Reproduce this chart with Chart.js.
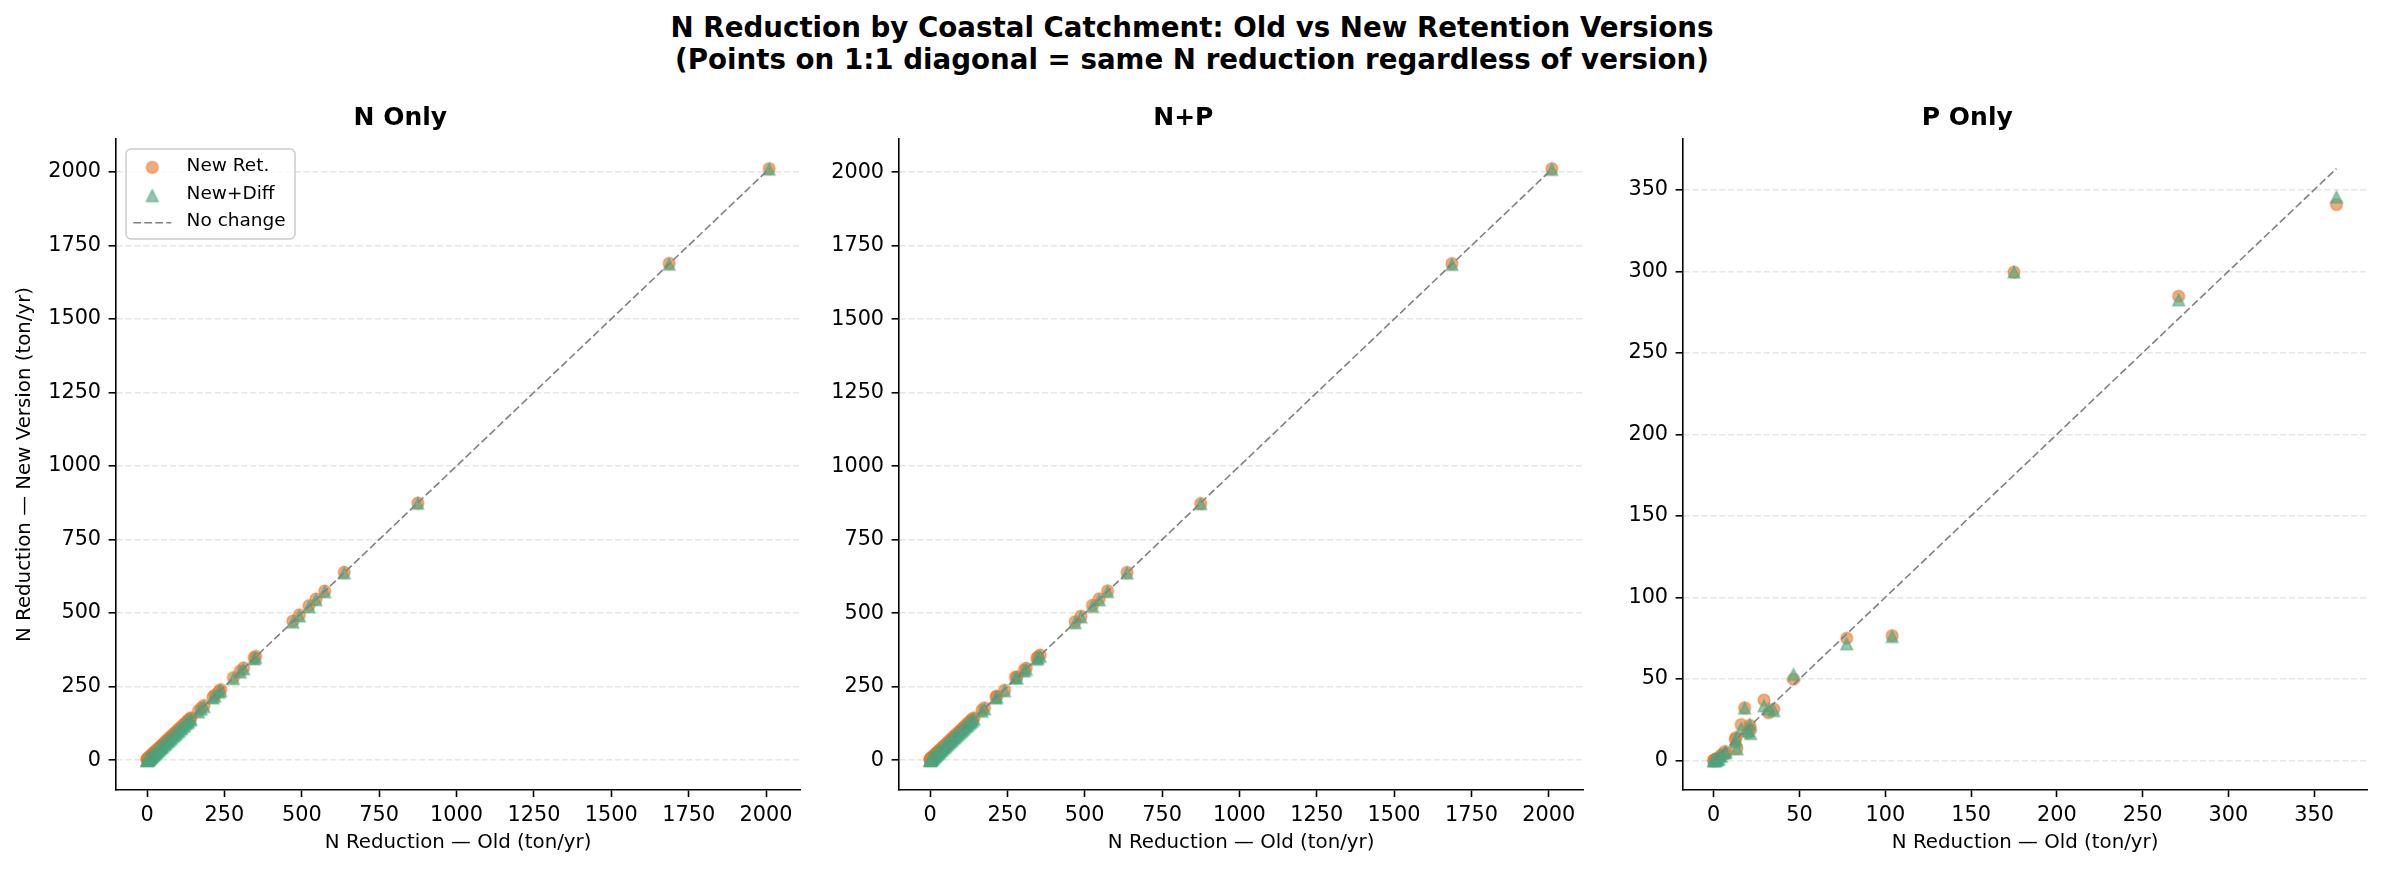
<!DOCTYPE html>
<html><head><meta charset="utf-8">
<script src="https://cdn.jsdelivr.net/npm/chart.js@4.4.1/dist/chart.umd.min.js"></script>
<style>
html,body{margin:0;padding:0;background:#fff;}
body{width:2384px;height:870px;position:relative;overflow:hidden;font-family:'DejaVu Sans',sans-serif;}
#suptitle{position:absolute;left:0;top:12px;width:2384px;text-align:center;font-weight:bold;font-size:27.7px;line-height:32px;color:#000;}
canvas{position:absolute;top:0;}
</style></head><body>
<div id="suptitle">N Reduction by Coastal Catchment: Old vs New Retention Versions<br>(Points on 1:1 diagonal = same N reduction regardless of version)</div>
<canvas id="c1" width="821" height="870" style="left:0px"></canvas>
<canvas id="c2" width="821" height="870" style="left:783px"></canvas>
<canvas id="c3" width="821" height="870" style="left:1567px"></canvas>
<script>
// ---------- data ----------
const panelTitles = ['N Only', 'N+P', 'P Only'];
const seriesLabels = ['New Ret.', 'New+Diff', 'No change'];
const xAxisLabel = 'N Reduction \u2014 Old (ton/yr)';
const yAxisLabel = 'N Reduction \u2014 New Version (ton/yr)';
const bigTicks = [0, 250, 500, 750, 1000, 1250, 1500, 1750, 2000];
const smallTicks = [0, 50, 100, 150, 200, 250, 300, 350];

const nOnlyOld = [2010,1687,875,637,574,546,523,492,471,351,346,312,301,279,238,233,219,213,184,175,166,142,139,133,131,126,120,118,112,109,104,101,97,93,90,86,83,78,76,72,69,66,63,59,57,54,50,48,45,43,40,37,35,33,30,28,26,24,22,20,18,17,15,13,12,10,9,7.5,6.2,5,4,3.1,2.4,1.6,1.1,0.6,0.2];
const nOnlyNewRet = [2011,1689,874,639,575,548,525,494,473,353,348,314,303,281,240,235,221,215,186,177,168,144,141,135,133,128,122,120,114,111,106,103,99,95,92,88,85,80,78,74,71,68,65,61,59,56,52,50,47,45,42,39,37,35,32,30,28,26,24,22,20,19,17,15,14,12,11,9.5,8,7,6,5,4.2,3.4,2.8,2.2,1.8];
const nOnlyNewDiff = [2009,1686,873,636,572,545,521,490,469,349,344,310,299,277,236,231,217,211,182,173,164,139,136,130,128,123,117,115,109,106,101,98,94,90,87,83,80,75,73,69,66,63,60,56,54,51,47,45,42,40,37,34,32,30,27,25,23,21,19,17,15,14,12,10,9,7,6,4.5,3.4,2.3,1.5,0.8,0.3,-0.2,-0.5,-0.8,-1.0];

const npOld = [2010,1687,875,637,574,547,525,488,469,356,349,345,311,305,276,281,241,216,213,176,168,142,137,134,130,127,122,119,115,110,107,103,100,96,92,89,85,81,78,75,71,68,65,62,58,55,52,49,46,44,41,38,36,33,31,29,27,25,23,21,19,17,16,14,12,11,9,8,6.5,5.2,4.1,3.2,2.3,1.6,1,0.5,0.2];
const npNewRet = [2012,1689,873,639,576,549,527,490,471,358,351,347,313,307,283,283,238,218,215,178,170,144,139,136,132,129,124,121,117,112,109,105,102,98,94,91,87,83,80,77,73,70,67,64,60,57,54,51,48,46,43,40,38,35,33,31,29,27,25,23,21,19,18,16,14,13,11,10,8.5,7.2,6.1,5.2,4.3,3.6,3,2.5,2.2];
const npNewDiff = [2009,1686,872,636,573,545,523,487,467,353,347,343,309,303,279,280,236,214,211,174,166,140,135,132,128,125,120,117,113,108,105,101,98,94,90,87,83,79,76,73,69,66,63,60,56,53,50,47,44,42,39,36,34,31,29,27,25,23,21,19,17,15,14,12,10,9,7,6,4.5,3.2,2.1,1.2,0.5,0,-0.4,-0.7,-0.9];

const pOld = [363,271,175,104,77.5,46.5,29.3,35,32,18,16,21,21.5,20,13,12.5,13.5,6.5,7,4.5,3.5,3,2.2,1.5,1,0.6,0.3,0.1,0];
const pNewRet = [341,284.7,299.5,76.5,75,49.8,37,31.5,29.2,32.3,22,21.5,19,17,14,13,7.5,5.5,4,3.5,2,1.5,1,0.8,0.5,0.2,0,0,0];
const pNewDiff = [345.5,282.5,299.5,76,71.5,52.7,33.5,30.5,31.5,32,19.5,22,16.5,18,13,11.5,7,4.8,5,2.5,3,0.8,0.4,0.2,0,0,0,0,0];

// ---------- styles ----------
const ORANGE = '232,121,47', GREEN = '76,166,126', ALPHA = 0.62;
Chart.defaults.font.family = "'DejaVu Sans', sans-serif";
Chart.defaults.color = '#000';

function makeMarker(shape, rgb) {
  const S = 20, c = document.createElement('canvas');
  c.width = S; c.height = S;
  const g = c.getContext('2d'), m = S / 2, r = 5.8;
  g.beginPath();
  if (shape === 'circle') g.arc(m, m, r, 0, Math.PI * 2);
  else { g.moveTo(m, m - r); g.lineTo(m - r, m + r); g.lineTo(m + r, m + r); g.closePath(); }
  g.fillStyle = `rgba(${rgb},${ALPHA})`; g.fill();
  g.lineWidth = 1.5; g.strokeStyle = `rgba(${rgb},${ALPHA})`; g.stroke();
  return c;
}
const circleMk = makeMarker('circle', ORANGE);
const triMk = makeMarker('triangle', GREEN);

const legendPlugin = {
  id: 'mplLegend',
  afterDatasetsDraw(chart, args, opts) {
    if (!opts.show) return;
    const ctx = chart.ctx, ca = chart.chartArea;
    const x0 = ca.left + 10.4, y0 = ca.top + 10, w = 169, h = 90, rr = 5;
    ctx.save();
    ctx.beginPath();
    ctx.moveTo(x0 + rr, y0); ctx.lineTo(x0 + w - rr, y0); ctx.arcTo(x0 + w, y0, x0 + w, y0 + rr, rr);
    ctx.lineTo(x0 + w, y0 + h - rr); ctx.arcTo(x0 + w, y0 + h, x0 + w - rr, y0 + h, rr);
    ctx.lineTo(x0 + rr, y0 + h); ctx.arcTo(x0, y0 + h, x0, y0 + h - rr, rr);
    ctx.lineTo(x0, y0 + rr); ctx.arcTo(x0, y0, x0 + rr, y0, rr); ctx.closePath();
    ctx.fillStyle = 'rgba(255,255,255,0.8)'; ctx.fill();
    ctx.lineWidth = 1.5; ctx.strokeStyle = '#cccccc'; ctx.stroke();
    const mx = ca.left + 36.7, tx = ca.left + 71;
    const rows = [ca.top + 28.3, ca.top + 56.7, ca.top + 83.7];
    const ds = chart.data.datasets;
    ctx.drawImage(circleMk, mx - circleMk.width / 2, rows[0] - circleMk.height / 2);
    ctx.drawImage(triMk, mx - triMk.width / 2, rows[1] - triMk.height / 2);
    ctx.beginPath(); ctx.setLineDash([7.7, 3.3]); ctx.lineWidth = 1.6; ctx.strokeStyle = '#808080';
    ctx.moveTo(mx - 19, rows[2]); ctx.lineTo(mx + 19, rows[2]); ctx.stroke();
    ctx.setLineDash([]);
    ctx.fillStyle = '#000'; ctx.font = "18.5px 'DejaVu Sans'"; ctx.textBaseline = 'middle'; ctx.textAlign = 'left';
    for (let i = 0; i < 3; i++) ctx.fillText(ds[[2, 1, 0][i]].label, tx, rows[i] - 1.2);
    ctx.restore();
  }
};

function buildPanel(id, title, oldV, retV, diffV, ticks, showY, showLegend) {
  const all = oldV.concat(retV, diffV);
  const lo = Math.min(...all), hi = Math.max(...all);
  const m = (hi - lo) * 0.05;
  const axMin = lo - m, axMax = hi + m;
  const tickFont = { size: 20.8 };
  const commonTicks = { font: tickFont, color: '#000', autoSkip: false, maxRotation: 0, callback: v => String(v) };
  new Chart(document.getElementById(id), {
    type: 'scatter',
    data: {
      datasets: [
        { label: seriesLabels[2], data: [{ x: lo, y: lo }, { x: hi, y: hi }], showLine: true,
          borderColor: '#808080', borderWidth: 1.6, borderDash: [7.7, 3.3], pointRadius: 0, order: 0 },
        { label: seriesLabels[1], data: oldV.map((x, i) => ({ x, y: diffV[i] })),
          pointStyle: triMk, pointRadius: 6, order: 1 },
        { label: seriesLabels[0], data: oldV.map((x, i) => ({ x, y: retV[i] })),
          pointStyle: circleMk, pointRadius: 6, order: 2 }
      ]
    },
    options: {
      responsive: false, animation: false, devicePixelRatio: window.devicePixelRatio || 1,
      layout: { padding: { left: 0, right: 20.4, top: 0, bottom: 8 } },
      plugins: {
        legend: { display: false }, tooltip: { enabled: false },
        title: { display: true, text: title, color: '#000', font: { size: 25, weight: 'bold' }, padding: { top: 103, bottom: 6 } },
        mplLegend: { show: showLegend }
      },
      scales: {
        x: {
          type: 'linear', min: axMin, max: axMax,
          afterBuildTicks: s => { s.ticks = ticks.map(v => ({ value: v })); },
          afterFit: s => { s.height = 72; },
          ticks: Object.assign({ padding: 6 }, commonTicks),
          grid: { drawOnChartArea: false, drawTicks: true, tickLength: 7, tickWidth: 1.6, tickColor: '#000' },
          border: { display: true, color: '#000', width: 1.6 },
          title: { display: true, text: xAxisLabel, color: '#000', font: { size: 19.8 }, padding: { top: 0, bottom: 7 } }
        },
        y: {
          type: 'linear', min: axMin, max: axMax,
          afterBuildTicks: s => { s.ticks = ticks.map(v => ({ value: v })); },
          afterFit: s => { s.width = 115.6; },
          ticks: Object.assign({ padding: 7.5 }, commonTicks),
          grid: { drawOnChartArea: true, color: '#e6e6e6', lineWidth: 1.6, drawTicks: true, tickLength: 7, tickWidth: 1.6, tickColor: '#000' },
          border: { display: true, color: '#000', width: 1.6, dash: [6.2, 2.7] },
          title: { display: showY, text: yAxisLabel, color: '#000', font: { size: 19.8 }, padding: { top: 13, bottom: 0 } }
        }
      }
    },
    plugins: [legendPlugin]
  });
}

buildPanel('c1', panelTitles[0], nOnlyOld, nOnlyNewRet, nOnlyNewDiff, bigTicks, true, true);
buildPanel('c2', panelTitles[1], npOld, npNewRet, npNewDiff, bigTicks, false, false);
buildPanel('c3', panelTitles[2], pOld, pNewRet, pNewDiff, smallTicks, false, false);
</script>
</body></html>
